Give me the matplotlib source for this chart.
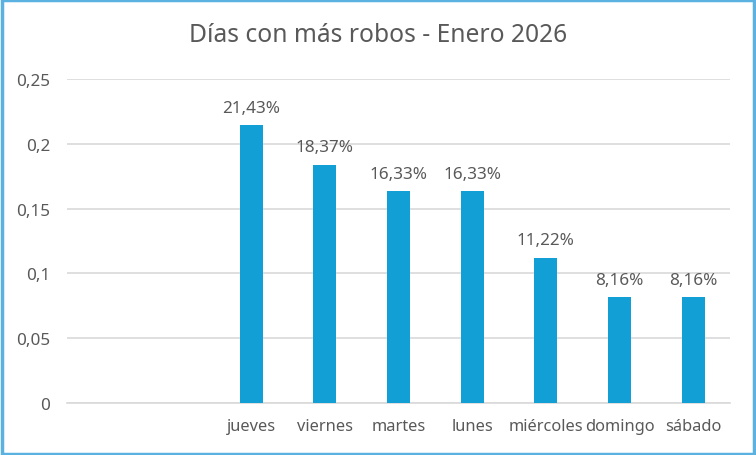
import matplotlib.pyplot as plt
import numpy as np
from matplotlib.patches import Rectangle

# datos del gráfico (dos categorías vacías al inicio, como en la hoja)
dias = ['', '', 'jueves', 'viernes', 'martes', 'lunes', 'miércoles', 'domingo', 'sábado']
proporcion = [np.nan, np.nan, 0.2143, 0.1837, 0.1633, 0.1633, 0.1122, 0.0816, 0.0816]
yticks = [0, 0.05, 0.1, 0.15, 0.2, 0.25]
ytick_labels = ['0', '0,05', '0,1', '0,15', '0,2', '0,25']

plt.rcParams['font.family'] = ['Noto Sans', 'DejaVu Sans']
gris = '#595959'
azul = '#119FD6'

fig = plt.figure(figsize=(7.56, 4.56), dpi=100)
ax = fig.add_axes([67 / 756, 1 - 404 / 456, (730 - 67) / 756, (404 - 80) / 456])

x = np.arange(len(dias))
ax.bar(x, proporcion, width=0.31, color=azul, zorder=3)

# etiquetas de datos
for xi, v in zip(x, proporcion):
    if np.isnan(v):
        continue
    txt = f'{v * 100:.2f}%'.replace('.', ',')
    ax.annotate(txt, (xi, v), xytext=(0, 7), textcoords='offset points',
                ha='center', va='bottom', fontsize=12.3, color=gris)

ax.set_xlim(-0.5, len(dias) - 0.5)
ax.set_ylim(0, 0.25)
ax.set_xticks(x)
ax.set_xticklabels(dias, fontsize=11.8, color=gris)
ax.set_yticks(yticks)
ax.set_yticklabels(ytick_labels, fontsize=12.3, color=gris)
ax.tick_params(length=0)
ax.tick_params(axis='y', pad=12)
ax.tick_params(axis='x', pad=11)

ax.grid(axis='y', color='#D9D9D9', linewidth=1.2, zorder=0)
for s in ['top', 'right', 'left']:
    ax.spines[s].set_visible(False)
ax.spines['bottom'].set_color('#D9D9D9')
ax.spines['bottom'].set_linewidth(1.2)

fig.text(0.5, 1 - 36 / 456, 'Días con más robos - Enero 2026', ha='center', va='center',
         fontsize=17.7, color=gris)

# marco del gráfico
fig.patches.append(Rectangle((0.002, 0.003), 0.996, 0.994, transform=fig.transFigure,
                             fill=False, edgecolor='#5BB2E0', linewidth=2.5))

fig.savefig('out.png', dpi=100)
